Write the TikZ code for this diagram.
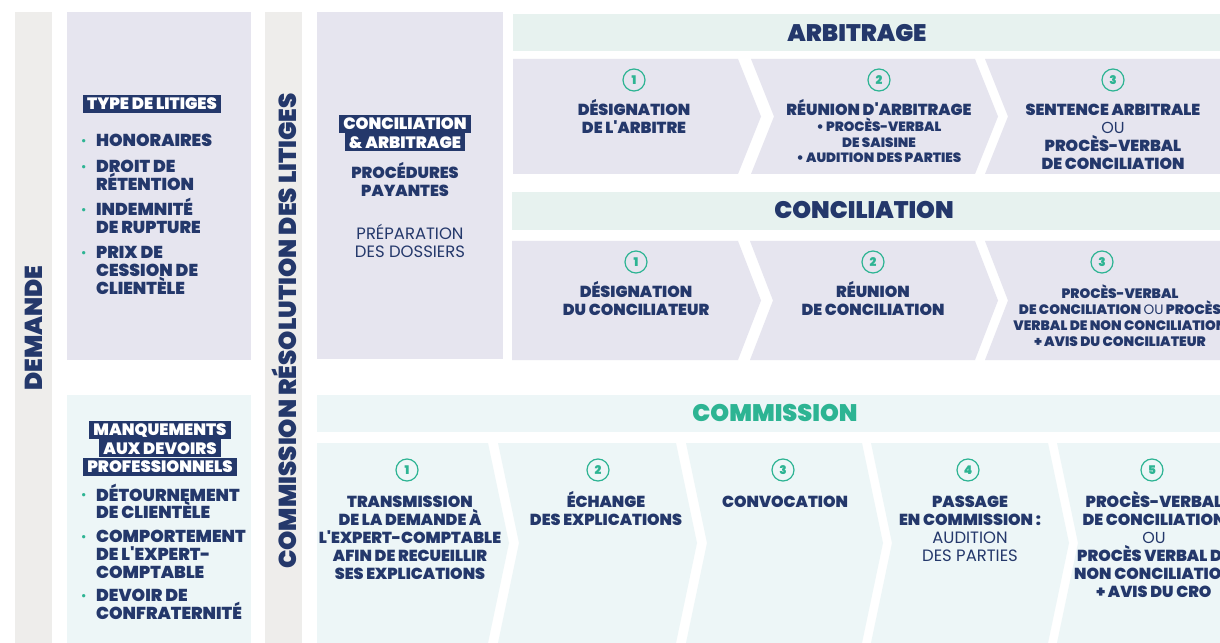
\documentclass[tikz,border=0pt]{standalone}
\usepackage{fontspec}
\setmainfont{Poppins}[BoldFont={Poppins Black}]
\usetikzlibrary{positioning}
\definecolor{navy}{HTML}{24386B}
\definecolor{crogreen}{HTML}{2DB493}
\definecolor{lavbg}{HTML}{E6E5EF}
\definecolor{mintbg}{HTML}{E7F2EF}
\definecolor{cyanbg}{HTML}{EDF6F7}
\definecolor{barbg}{HTML}{EEEDEB}
\newcommand{\puce}{\makebox[15pt][l]{\raisebox{2.5pt}{\textcolor{crogreen}{\fontsize{10}{10}\selectfont •}}}}
\newcommand{\lig}[1]{\vtop{\let\\\cr\halign{\hfil##\hfil\cr#1\crcr}}}
\newcommand{\lis}[1]{\vtop{\let\\\cr\halign{##\hfil&##\hfil\cr#1\crcr}}}
\newcommand{\gap}[1]{\noalign{\vskip#1}}
\newcommand{\apos}{\textquotesingle}

\begin{document}
\begin{tikzpicture}[x=1bp, y=-1bp,
  txt/.style={text=navy, font=\bfseries\fontsize{16}{18}\selectfont, inner sep=0pt, anchor=base},
  small/.style={txt, font=\bfseries\fontsize{13.5}{15.5}\selectfont},
  lst/.style={text=navy, font=\bfseries\fontsize{17.3}{18}\selectfont, inner sep=0pt, anchor=base west},
  num/.style={circle, draw=crogreen, line width=1.2bp, text=crogreen,
    font=\bfseries\fontsize{12}{12}\selectfont, minimum size=22bp, inner sep=0pt},
  head/.style={text=navy, font=\bfseries\fontsize{24}{26}\selectfont, inner sep=0pt},
  vert/.style={head, rotate=90, font=\bfseries\fontsize{24.6}{26}\selectfont},
  tag/.style={fill=navy, text=white, font=\bfseries\fontsize{16.5}{18}\selectfont,
    inner xsep=4bp, inner ysep=0pt, text height=14.8bp, text depth=3.2bp}]

\useasboundingbox (0,0) rectangle (1220,643);
\clip (0,0) rectangle (1220,643);
\fill[white] (0,0) rectangle (1220,643);

\fill[barbg] (15,12) rectangle (52,650);
\fill[lavbg] (67,12) rectangle (251,360);
\fill[cyanbg] (67,395) rectangle (251,650);
\fill[barbg] (265,12) rectangle (302,650);
\fill[lavbg] (317,12) rectangle (503,359);

\fill[mintbg] (513,14) rectangle (1230,51);
\fill[lavbg] (513,59) -- (738,59) -- (761,116.5) -- (738,174) -- (513,174) -- cycle;
\fill[lavbg] (751,59) -- (975,59) -- (998,116.5) -- (975,174) -- (751,174) -- (774,116.5) -- cycle;
\fill[lavbg] (985,59) -- (1230,59) -- (1230,174) -- (985,174) -- (1008,116.5) -- cycle;

\fill[mintbg] (512,192) rectangle (1230,230);
\fill[lavbg] (512,241) -- (738,241) -- (761,300.5) -- (738,360) -- (512,360) -- cycle;
\fill[lavbg] (750,241) -- (975,241) -- (998,300.5) -- (975,360) -- (750,360) -- (773,300.5) -- cycle;
\fill[lavbg] (985,241) -- (1230,241) -- (1230,360) -- (985,360) -- (1008,300.5) -- cycle;

\fill[cyanbg] (317,395) rectangle (1230,432);
\fill[cyanbg] (317,443) -- (488,443) -- (509,543) -- (488,643) -- (317,643) -- cycle;
\fill[cyanbg] (498,443) -- (676,443) -- (697,543) -- (676,643) -- (498,643) -- (519,543) -- cycle;
\fill[cyanbg] (686,443) -- (862,443) -- (883,543) -- (862,643) -- (686,643) -- (707,543) -- cycle;
\fill[cyanbg] (871,443) -- (1048,443) -- (1069,543) -- (1048,643) -- (871,643) -- (892,543) -- cycle;
\fill[cyanbg] (1057,443) -- (1230,443) -- (1230,643) -- (1057,643) -- (1078,543) -- cycle;

\node[vert] (D) at (34,328) {DEMANDE};%
\node[vert] (R) at (284,331) {COMMISSION RÉSOLUTION DES LITIGES};%

\node[tag] (TL) at (152,104) {TYPE DE LITIGES};%
\node[lst] (L1) at (81,147) {\lis{
\puce & HONORAIRES\\\gap{8pt}
\puce & DROIT DE\\ & RÉTENTION\\\gap{7pt}
\puce & INDEMNITÉ\\ & DE RUPTURE\\\gap{7pt}
\puce & PRIX DE\\ & CESSION DE\\ & CLIENTÈLE}};%

\node[tag] (M1) at (160,430) {MANQUEMENTS};%
\node[tag, below=0pt of M1] (M2) {AUX DEVOIRS};%
\node[tag, below=0pt of M2] (M3) {PROFESSIONNELS};%
\node[lst] (L2) at (81,501) {\lis{
\puce & DÉTOURNEMENT\\ & DE CLIENTÈLE\\\gap{6pt}
\puce & COMPORTEMENT\\ & DE L\apos EXPERT-\\ & COMPTABLE\\\gap{5pt}
\puce & DEVOIR DE\\ & CONFRATERNITÉ}};%

\node[tag] (Q1) at (405,124) {CONCILIATION};%
\node[tag, below=0pt of Q1] (Q2) {\& ARBITRAGE};%
\node[txt] (P) at (405,179) {\lig{PROCÉDURES\\PAYANTES}};%
\node[txt, font=\mdseries\fontsize{16.5}{18}\selectfont] (PD) at (410,240) {\lig{PRÉPARATION\\DES DOSSIERS}};%

\node[head] (HA) at (857,33) {ARBITRAGE};%
\node[num] (A1n) at (634,80) {1};%
\node[num] (A2n) at (879,80) {2};%
\node[num] (A3n) at (1113,80) {3};%
\node[txt] (A1) at (634,116) {\lig{DÉSIGNATION\\DE L\apos ARBITRE}};%
\node[txt] (A2) at (879,116) {RÉUNION D\apos ARBITRAGE};%
\node[small] (A2b) at (879,132) {\lig{• PROCÈS-VERBAL\\DE SAISINE\\• AUDITION DES PARTIES}};%
\node[txt] (A3) at (1113,116) {\lig{SENTENCE ARBITRALE\\{\mdseries OU}\\PROCÈS-VERBAL\\DE CONCILIATION}};%

\node[head] (HC) at (864,210) {CONCILIATION};%
\node[num] (C1n) at (636,262) {1};%
\node[num] (C2n) at (873,262) {2};%
\node[num] (C3n) at (1102,262) {3};%
\node[txt] (C1) at (636,298) {\lig{DÉSIGNATION\\DU CONCILIATEUR}};%
\node[txt] (C2) at (873,298) {\lig{RÉUNION\\DE CONCILIATION}};%
\node[txt, font=\bfseries\fontsize{13.7}{16}\selectfont] (C3) at (1120,299)
{\lig{PROCÈS-VERBAL\\DE CONCILIATION {\mdseries OU} PROCÈS\\VERBAL DE NON CONCILIATION\\+ AVIS DU CONCILIATEUR}};%

\node[head, text=crogreen] (HK) at (775,413) {COMMISSION};%
\node[num] (K1n) at (407,470) {1};%
\node[num] (K2n) at (598,470) {2};%
\node[num] (K3n) at (783,470) {3};%
\node[num] (K4n) at (968,470) {4};%
\node[num] (K5n) at (1152,470) {5};%
\node[txt] (K1) at (410,507.5) {\lig{TRANSMISSION\\DE LA DEMANDE À\\L\apos EXPERT-COMPTABLE\\AFIN DE RECUEILLIR\\SES EXPLICATIONS}};%
\node[txt] (K2) at (606,507.5) {\lig{ÉCHANGE\\DES EXPLICATIONS}};%
\node[txt] (K3) at (785,507.5) {CONVOCATION};%
\node[txt] (K4) at (970,507.5) {\lig{PASSAGE\\EN COMMISSION :\\{\mdseries\fontsize{16.5}{18}\selectfont AUDITION}\\{\mdseries\fontsize{16.5}{18}\selectfont DES PARTIES}}};%
\node[txt] (K5) at (1154,507.5) {\lig{PROCÈS-VERBAL\\DE CONCILIATION\\{\mdseries OU}\\PROCÈS VERBAL DE\\NON CONCILIATION\\+ AVIS DU CRO}};%

\end{tikzpicture}
\end{document}
